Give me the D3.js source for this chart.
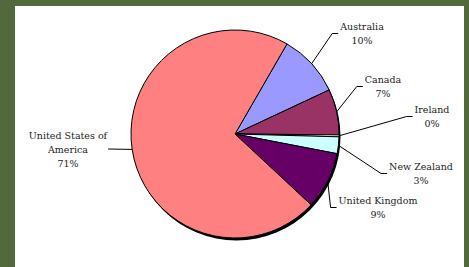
<!DOCTYPE html>
<html><head><meta charset="utf-8">
<script src="https://cdn.jsdelivr.net/npm/d3@7"></script>
<style>
html,body{margin:0;padding:0;background:#53683c;}
svg{display:block;}
</style></head>
<body>
<svg id="chart" width="469" height="267"></svg>
<script>
const categories = ["Australia", "Canada", "Ireland", "New Zealand", "United Kingdom", "United States of America"];
const values = [9.7, 7.1, 0.3, 2.6, 8.9, 71.4];
const colors = ["#9999ff", "#993366", "#ffffcc", "#ccffff", "#660066", "#ff8080"];
// label lines (text) and label anchor layout
const labelLines = [["Australia"], ["Canada"], ["Ireland"], ["New Zealand"], ["United Kingdom"], ["United States of", "America"]];
const labelPos = [[362, 30], [383, 83], [432, 113], [421, 170], [378, 204], [68, 138.5]];

const svg = d3.select("#chart");
svg.append("rect").attr("x", 15).attr("y", 6).attr("width", 449).attr("height", 261).attr("fill", "#ffffff");

const cx = 235, cy = 134, r = 104;
const total = d3.sum(values);
const startDeg = 30;
const pie = d3.pie().sort(null).value(d => d)
  .startAngle(startDeg * Math.PI / 180).endAngle((startDeg + 360) * Math.PI / 180);
const arcs = pie(values);
const arc = d3.arc().innerRadius(0).outerRadius(r);

const g = svg.append("g").attr("transform", `translate(${cx},${cy})`);
// shadow
g.append("circle").attr("cx", 1.5).attr("cy", 2.5).attr("r", r).attr("fill", "#000");
g.selectAll("path.slice").data(arcs).enter().append("path")
  .attr("class", "slice")
  .attr("d", arc)
  .attr("fill", (d, i) => colors[i])
  .attr("stroke", "#000").attr("stroke-width", 1).attr("stroke-linejoin", "round");

const fmt = v => Math.round(v / total * 100) + "%";
const lineH = 14;
const font = "'DejaVu Serif', serif";

arcs.forEach((a, i) => {
  const mid = (a.startAngle + a.endAngle) / 2;
  const ex = cx + r * Math.sin(mid), ey = cy - r * Math.cos(mid);
  const lines = labelLines[i].concat([fmt(values[i])]);
  const [lx, ly] = labelPos[i];
  const tg = svg.append("g");
  const texts = lines.map((t, k) => tg.append("text")
    .attr("x", lx).attr("y", ly + k * lineH)
    .attr("text-anchor", "middle")
    .attr("font-family", font).attr("font-size", 9.5)
    .attr("fill", "#222")
    .text(t));
  const w = texts[0].node().getComputedTextLength();
  let pts;
  if (ex > cx) {
    const left = lx - w / 2 - 2;
    const ly0 = ly + 3.5;
    pts = [[ex, ey], [left - 6, ly0], [left, ly0]];
  } else {
    const right = lx + d3.max(texts, t => t.node().getComputedTextLength()) / 2 + 1;
    pts = [[ex, ey], [right, ly + 10.5]];
  }
  svg.append("path").attr("d", d3.line()(pts))
    .attr("fill", "none").attr("stroke", "#000").attr("stroke-width", 1);
});
</script>
</body></html>
